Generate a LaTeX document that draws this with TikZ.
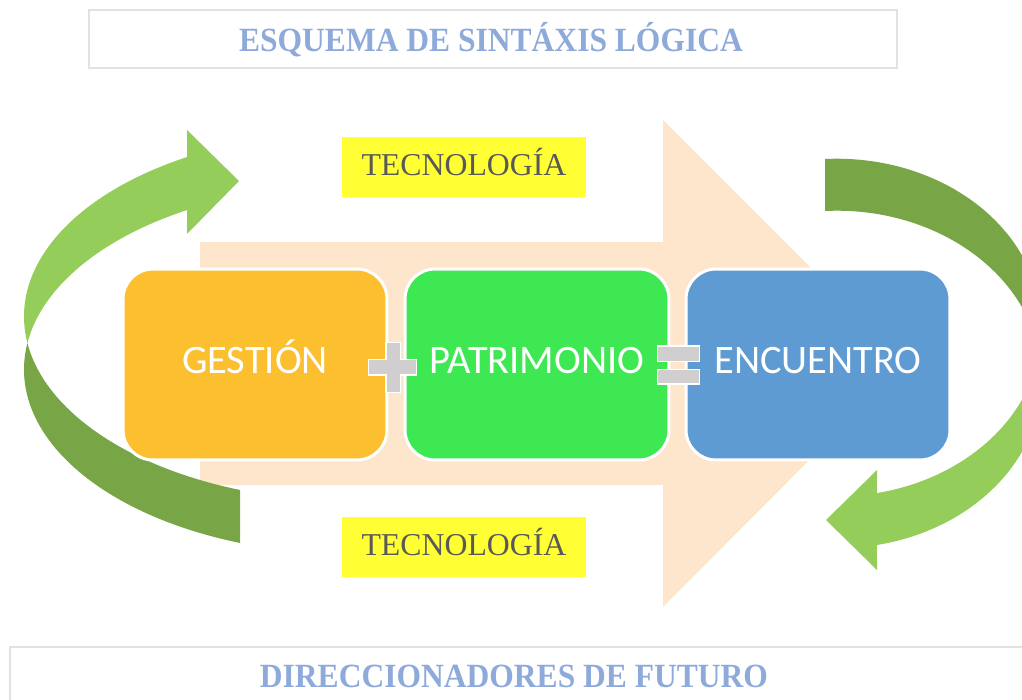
\documentclass[tikz,border=0pt]{standalone}
\usepackage{fontspec}
\setmainfont{Liberation Serif}
\newfontfamily\termfont{Carlito}
\usepackage{tikz}

\definecolor{peach}{HTML}{FDE6CB}
\definecolor{termorange}{HTML}{FBBF2F}
\definecolor{termgreen}{HTML}{3EE853}
\definecolor{termblue}{HTML}{5F9BD3}
\definecolor{arrowlight}{HTML}{95CD5A}
\definecolor{arrowdark}{HTML}{78A647}
\definecolor{techyellow}{HTML}{FFFF33}
\definecolor{techgray}{HTML}{595959}
\definecolor{titleblue}{HTML}{8EAADB}
\definecolor{framegray}{HTML}{E2E2E2}
\definecolor{signgray}{HTML}{D0CECE}

\tikzset{
  termbox/.style={rounded corners=0.6cm, draw=white, line width=0.06cm,
    minimum width=5.28cm, minimum height=3.82cm, inner sep=0pt,
    text=white, text height=1.05em, text depth=0pt,
    font=\termfont\fontsize{23}{27}\selectfont},
  techbox/.style={fill=techyellow, minimum width=4.88cm, minimum height=1.2cm,
    inner sep=0pt, text=techgray, text height=0.95em, text depth=0pt,
    font=\fontsize{18.1}{22}\selectfont},
  headline/.style={text=titleblue, inner sep=0pt, text height=1.35em, text depth=0pt,
    font=\bfseries\fontsize{19.3}{23}\selectfont},
  frame/.style={draw=framegray, line width=0.04cm, fill=white},
  sign/.style={fill=signgray, draw=white, line width=0.03cm},
  leftring/.style={x radius=329.6, y radius=184.8},
  rightring/.style={x radius=204.9, y radius=168.8}
}

\begin{document}
\begin{tikzpicture}[x=0.02cm, y=-0.02cm]
                \useasboundingbox (0,0) rectangle (1022,700);
                \clip (0,0) rectangle (1022,700);
                
                % Drawing big arrow behind the terms
                \fill [peach] (200,242) -- (663,242) -- (663,120) -- (906,363) -- (663,607) -- (663,485) -- (200,485) -- cycle;%
                
                % Drawing left curved arrow, front part
                \fill [arrowlight] ([shift={(353.6,316.5)}]171.76:329.6 and 184.8) arc [leftring, start angle=171.76, end angle=239.64] -- (187,130) -- (239,181) -- (187,234) -- ([shift={(353.6,369.5)}]239.64:329.6 and 184.8) arc [leftring, start angle=239.64, end angle=188.24] -- cycle;%
                
                % Drawing left curved arrow, back part
                \fill [arrowdark] ([shift={(353.6,369.5)}]188.24:329.6 and 184.8) arc [leftring, start angle=188.24, end angle=110.16] -- ([shift={(353.6,316.5)}]110.16:329.6 and 184.8) arc [leftring, start angle=110.16, end angle=171.76] -- cycle;%
                
                % Drawing right curved arrow, back part
                \fill [arrowdark] ([shift={(836.8,327.5)}]8.86:204.9 and 168.8) arc [rightring, start angle=8.86, end angle=-93.3] -- ([shift={(836.8,379.5)}]-93.3:204.9 and 168.8) arc [rightring, start angle=-93.3, end angle=-8.86] -- cycle;%
                
                % Drawing right curved arrow, front part
                \fill [arrowlight] ([shift={(836.8,379.5)}]-8.86:204.9 and 168.8) arc [rightring, start angle=-8.86, end angle=78.69] -- (877,570) -- (826,520) -- (877,470) -- ([shift={(836.8,327.5)}]78.69:204.9 and 168.8) arc [rightring, start angle=78.69, end angle=8.86] -- cycle;%
                
                % Marking the three terms
                \node [termbox, fill=termorange] (gestion) at (255,364.5) {GESTIÓN};%
                \node [termbox, fill=termgreen] (patrimonio) at (537,364.5) {PATRIMONIO};%
                \node [termbox, fill=termblue] (encuentro) at (818,364.5) {ENCUENTRO};%
                
                % Drawing plus sign
                \filldraw [sign] (368.3,359.3) -- (386,359.3) -- (386,342.7) -- (400.7,342.7) -- (400.7,359.3) -- (416.7,359.3) -- (416.7,375) -- (400.7,375) -- (400.7,392.7) -- (386,392.7) -- (386,375) -- (368.3,375) -- cycle;%
                
                % Drawing equals sign
                \filldraw [sign] (657.3,346) rectangle (699.3,361.7);%
                \filldraw [sign] (657.3,369.3) rectangle (699.3,384);%
                
                % Marking technology labels
                \node [techbox] (techtop) at (464,167) {TECNOLOGÍA};%
                \node [techbox] (techbottom) at (464,547) {TECNOLOGÍA};%
                
                % Marking title and footer
                \node [frame, minimum width=16.16cm, minimum height=1.16cm, inner sep=0pt] (titleframe) at (493,39) {};%
                \node [headline] (title) at (491,40) {\scalebox{0.93}[1]{ESQUEMA DE SINTÁXIS LÓGICA}};%
                \draw [frame] (10,647) rectangle (1040,720);%
                \node [headline] (footer) at (514,676) {\scalebox{0.93}[1]{DIRECCIONADORES DE FUTURO}};%
\end{tikzpicture}
\end{document}
